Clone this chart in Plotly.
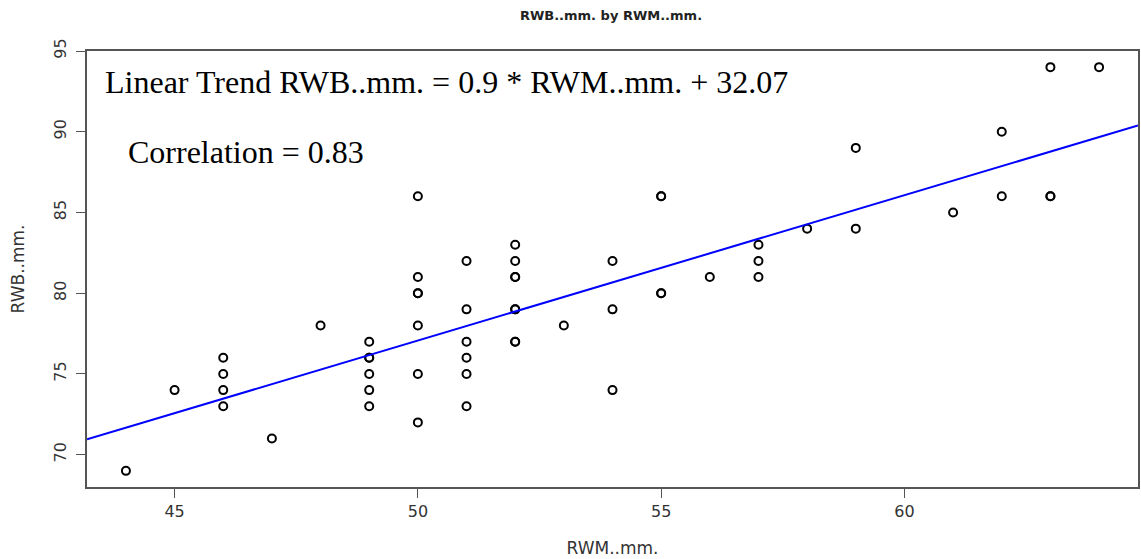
import plotly.graph_objects as go

# Data (RWM..mm. vs RWB..mm.)
rwm = [44, 45, 46, 46, 46, 46, 47, 48,
       49, 49, 49, 49, 49, 49,
       50, 50, 50, 50, 50, 50, 50,
       51, 51, 51, 51, 51, 51,
       52, 52, 52, 52, 52, 52, 52, 52,
       53, 54, 54, 54, 55, 55, 55, 55, 56,
       57, 57, 57, 58, 59, 59, 61, 62, 62, 63, 63, 63, 64]
rwb = [69, 74, 73, 74, 75, 76, 71, 78,
       73, 74, 75, 76, 76, 77,
       72, 75, 78, 80, 80, 81, 86,
       73, 75, 76, 77, 79, 82,
       77, 77, 79, 79, 81, 81, 82, 83,
       78, 74, 79, 82, 80, 80, 86, 86, 81,
       81, 82, 83, 84, 84, 89, 85, 86, 90, 86, 86, 94, 94]

slope = 0.9
intercept = 32.07
correlation = 0.83

x_range = [43.2, 64.8]
y_range = [68, 95]
x_ticks = [45, 50, 55, 60]
y_ticks = [70, 75, 80, 85, 90, 95]

W, H = 1141, 559
L, R, T, B = 87, 1, 51, 559 - 487
PW, PH = W - L - R, H - T - B

def px_x(page_x):
    return (page_x - L) / PW

def px_y(page_y):
    return (H - B - page_y) / PH

fig = go.Figure()
fig.add_trace(go.Scatter(
    x=rwm, y=rwb, mode="markers",
    marker=dict(symbol="circle-open", size=8, color="black", line=dict(width=2, color="black")),
    showlegend=False, hoverinfo="x+y"))
fig.add_trace(go.Scatter(
    x=x_range, y=[slope * v + intercept for v in x_range], mode="lines",
    line=dict(color="#0000ff", width=2), showlegend=False))

fig.add_annotation(xref="paper", yref="paper", x=px_x(103), y=px_y(82),
                   xanchor="left", yanchor="middle", showarrow=False,
                   text=f"Linear Trend RWB..mm. = {slope} * RWM..mm. + {intercept}",
                   font=dict(family="Liberation Serif", size=32, color="black"))
fig.add_annotation(xref="paper", yref="paper", x=px_x(126), y=px_y(152),
                   xanchor="left", yanchor="middle", showarrow=False,
                   text=f"Correlation = {correlation}",
                   font=dict(family="Liberation Serif", size=32, color="black"))

fig.update_layout(
    width=W, height=H,
    margin=dict(l=L, r=R, t=T, b=B),
    paper_bgcolor="white", plot_bgcolor="white",
    title=dict(text="<b>RWB..mm. by RWM..mm.</b>", x=611 / W, xanchor="center",
               y=1 - 15 / H, yanchor="middle",
               font=dict(family="DejaVu Sans", size=13, color="#222")),
    font=dict(family="DejaVu Sans", size=16, color="#333"),
)
fig.update_xaxes(range=x_range, tickvals=x_ticks, ticks="outside", ticklen=9, tickcolor="#555",
                 showgrid=False, zeroline=False, showline=True, linecolor="#555", linewidth=2,
                 mirror=True,
                 title=dict(text="RWM..mm.", font=dict(size=17), standoff=22))
fig.update_yaxes(range=y_range, tickvals=y_ticks, ticks="outside", ticklen=9, tickcolor="#555",
                 tickangle=-90, ticklabelstandoff=4,
                 showgrid=False, zeroline=False, showline=True, linecolor="#555", linewidth=2,
                 mirror=True,
                 title=dict(text="RWB..mm.", font=dict(size=17), standoff=22))

fig.write_html("out.html", config={"displayModeBar": False},
               post_script="document.body.style.margin='0';document.body.style.overflow='hidden';")
